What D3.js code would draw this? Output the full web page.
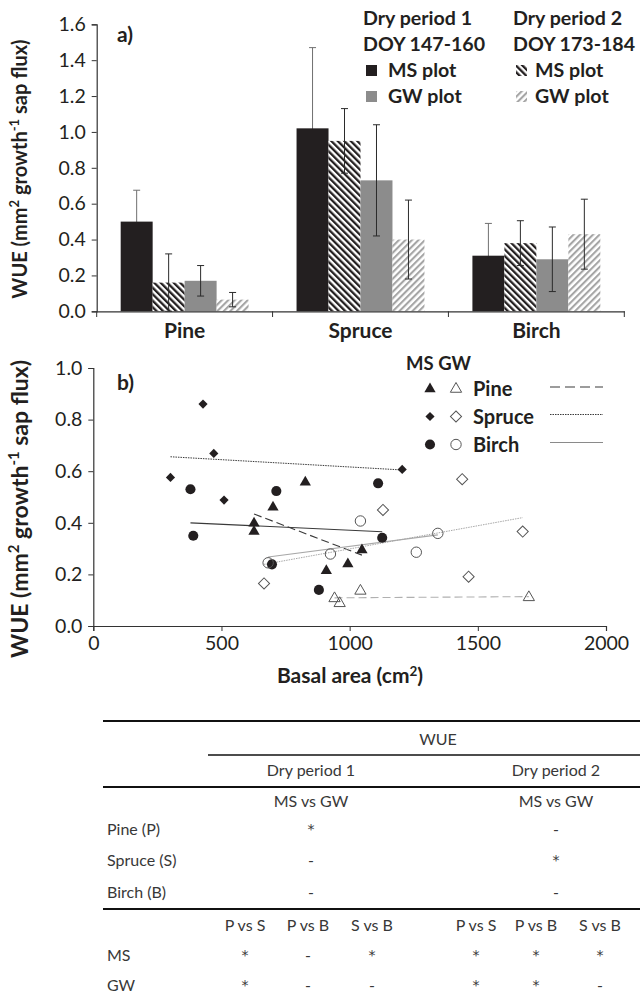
<!DOCTYPE html>
<html>
<head>
<meta charset="utf-8">
<script src="https://cdn.jsdelivr.net/npm/d3@7"></script>
<style>
  body { margin: 0; background: #fff; }
  text { font-family: Lato, "Open Sans", sans-serif; fill: #231f20; }
</style>
</head>
<body>
<svg id="fig" width="641" height="998"></svg>
<script>
// ---------- panel a: WUE by species, plot and dry period ----------
const species = ["Pine", "Spruce", "Birch"];
const barSeries = ["MS1", "MS2", "GW1", "GW2"];
const wueMS1 = [0.50, 1.02, 0.31];
const wueMS2 = [0.16, 0.95, 0.38];
const wueGW1 = [0.17, 0.73, 0.29];
const wueGW2 = [0.065, 0.40, 0.43];
const errMS1 = [0.175, 0.45, 0.18];
const errMS2 = [0.16, 0.18, 0.125];
const errGW1 = [0.085, 0.31, 0.18];
const errGW2 = [0.04, 0.22, 0.195];
const barTicks = [0, 0.2, 0.4, 0.6, 0.8, 1.0, 1.2, 1.4, 1.6];

// ---------- panel b: WUE against basal area ----------
const pineMSx = [627, 627, 701, 827, 909, 993, 1048];
const pineMSy = [0.398, 0.366, 0.46, 0.557, 0.214, 0.24, 0.295];
const pineGWx = [941, 961, 1042, 1699];
const pineGWy = [0.107, 0.088, 0.136, 0.111];
const spruceMSx = [301, 428, 470, 510, 1205];
const spruceMSy = [0.576, 0.86, 0.669, 0.488, 0.607];
const spruceGWx = [666, 1130, 1439, 1464, 1675];
const spruceGWy = [0.165, 0.45, 0.569, 0.191, 0.366];
const birchMSx = [379, 390, 697, 714, 880, 1111, 1127];
const birchMSy = [0.53, 0.35, 0.239, 0.523, 0.14, 0.553, 0.342];
const birchGWx = [682, 925, 1042, 1260, 1344];
const birchGWy = [0.245, 0.279, 0.407, 0.286, 0.359];
const areaTicks = [0, 500, 1000, 1500, 2000];
const wueTicks = [0, 0.2, 0.4, 0.6, 0.8, 1.0];

// ---------- significance table ----------
const periodNames = ["Dry period 1", "Dry period 2"];
const speciesRows = ["Pine (P)", "Spruce (S)", "Birch (B)"];
const withinP1 = ["*", "-", "-"];
const withinP2 = ["-", "*", "-"];
const pairNames = ["P vs S", "P vs B", "S vs B"];
const plotRows = ["MS", "GW"];
const pairsP1 = [["*", "-", "*"], ["*", "-", "-"]];
const pairsP2 = [["*", "*", "*"], ["*", "*", "-"]];

const svg = d3.select("#fig");
const ink = "#231f20";
const defs = svg.append("defs");

function hatch(id, angle, color, width) {
  const p = defs.append("pattern")
    .attr("id", id)
    .attr("patternUnits", "userSpaceOnUse")
    .attr("width", 4.6).attr("height", 10)
    .attr("patternTransform", `rotate(${angle})`);
  p.append("rect").attr("width", 4.6).attr("height", 10).attr("fill", "#fff");
  p.append("rect").attr("width", width).attr("height", 10).attr("fill", color);
}
hatch("hatchMS", -45, ink, 2.3);
hatch("hatchGW", 45, "#a5a5a5", 2.1);

const fills = { MS1: ink, MS2: "url(#hatchMS)", GW1: "#8c8c8c", GW2: "url(#hatchGW)" };
const values = { MS1: wueMS1, MS2: wueMS2, GW1: wueGW1, GW2: wueGW2 };
const errors = { MS1: errMS1, MS2: errMS2, GW1: errGW1, GW2: errGW2 };

// ===== panel a =====
const xA = d3.scaleBand().domain(species).range([96.7, 624.3]).padding(0);
const xInner = d3.scaleBand().domain(barSeries).range([0, xA.bandwidth()])
  .paddingInner(0).paddingOuter(0.75);
const yA = d3.scaleLinear().domain([0, 1.6]).range([311.3, 24.3]);

const gErrBack = svg.append("g");   // whiskers that sit behind the solid black bars
const gBars = svg.append("g");
const gErrFront = svg.append("g");

function whisker(layer, cx, v, e, col) {
  const g = layer.append("g").attr("stroke", col).attr("stroke-width", 1);
  g.append("line").attr("x1", cx).attr("x2", cx).attr("y1", yA(v - e)).attr("y2", yA(v + e));
  g.append("line").attr("x1", cx - 3.5).attr("x2", cx + 3.5).attr("y1", yA(v + e)).attr("y2", yA(v + e));
  g.append("line").attr("x1", cx - 3.5).attr("x2", cx + 3.5).attr("y1", yA(v - e)).attr("y2", yA(v - e));
}

species.forEach((sp, i) => {
  barSeries.forEach(s => {
    const v = values[s][i], e = errors[s][i];
    const x = xA(sp) + xInner(s);
    gBars.append("rect")
      .attr("x", x)
      .attr("y", yA(v))
      .attr("width", xInner.bandwidth())
      .attr("height", yA(0) - yA(v))
      .attr("fill", fills[s]);
    const cx = x + xInner.bandwidth() / 2;
    if (s === "MS1") whisker(gErrBack, cx, v, e, "#707070");
    else whisker(gErrFront, cx, v, e, "#2b2b2b");
  });
});

// axes of panel a
const yAxisA = svg.append("g").attr("transform", "translate(96.7,0)")
  .call(d3.axisLeft(yA).tickValues(barTicks).tickFormat(d3.format(".1f")).tickSize(5).tickPadding(6));
const xAxisA = svg.append("g").attr("transform", "translate(0,311.3)")
  .call(d3.axisBottom(xA).tickSize(0).tickPadding(12));
// category separators on the x axis
svg.append("g").selectAll("line")
  .data(species.map(s => xA(s)).concat([xA.range()[1]]))
  .join("line")
  .attr("x1", d => d).attr("x2", d => d)
  .attr("y1", 311.3).attr("y2", 317)
  .attr("stroke", "#333");

[yAxisA, xAxisA].forEach(ax => {
  ax.select(".domain").attr("stroke", "#333").attr("stroke-width", 1.2);
  ax.selectAll(".tick line").attr("stroke", "#333");
});
yAxisA.selectAll(".tick text").attr("font-size", 19.5).attr("fill", ink);
xAxisA.selectAll(".tick text").attr("font-size", 21).attr("font-weight", 700).attr("fill", ink);

svg.append("text").attr("x", 117).attr("y", 42).attr("font-size", 21).attr("font-weight", 700).text("a)");

function wueTitle(cx, cy, size) {
  const t = svg.append("text")
    .attr("transform", `translate(${cx},${cy}) rotate(-90)`)
    .attr("text-anchor", "middle")
    .attr("font-size", size).attr("font-weight", 700);
  t.append("tspan").text("WUE (mm");
  t.append("tspan").attr("font-size", size * 0.65).attr("dy", -size * 0.38).text("2");
  t.append("tspan").attr("dy", size * 0.38).text(" growth");
  t.append("tspan").attr("font-size", size * 0.65).attr("dy", -size * 0.38).text("-1");
  t.append("tspan").attr("dy", size * 0.38).text(" sap flux)");
}
wueTitle(27, 169, 20);

// legend of panel a
const legA = svg.append("g").attr("font-weight", 700).attr("font-size", 19.6);
const legCols = [
  { x: 363, title: periodNames[0], doy: "DOY 147-160", ms: "MS1", gw: "GW1", textX: 388 },
  { x: 513, title: periodNames[1], doy: "DOY 173-184", ms: "MS2", gw: "GW2", textX: 535 }
];
legCols.forEach(c => {
  legA.append("text").attr("x", c.x).attr("y", 25).text(c.title);
  legA.append("text").attr("x", c.x).attr("y", 51).text(c.doy);
  legA.append("rect").attr("x", c.x + 3).attr("y", 65).attr("width", 11).attr("height", 11).attr("fill", fills[c.ms]);
  legA.append("text").attr("x", c.textX).attr("y", 77).text("MS plot");
  legA.append("rect").attr("x", c.x + 3).attr("y", 91).attr("width", 11).attr("height", 11).attr("fill", fills[c.gw]);
  legA.append("text").attr("x", c.textX).attr("y", 103).text("GW plot");
});

// ===== panel b =====
const xB = d3.scaleLinear().domain([0, 2000]).range([93.3, 606]);
const yB = d3.scaleLinear().domain([0, 1]).range([626, 368]);

const yAxisB = svg.append("g").attr("transform", "translate(93.3,0)")
  .call(d3.axisLeft(yB).tickValues(wueTicks).tickFormat(d3.format(".1f")).tickSize(5).tickPadding(6));
const xAxisB = svg.append("g").attr("transform", "translate(0,626)")
  .call(d3.axisBottom(xB).tickValues(areaTicks).tickFormat(d3.format("d")).tickSize(5).tickPadding(5));
[yAxisB, xAxisB].forEach(ax => {
  ax.select(".domain").attr("stroke", "#333").attr("stroke-width", 1.2);
  ax.selectAll(".tick line").attr("stroke", "#333");
  ax.selectAll(".tick text").attr("font-size", 19.5).attr("fill", ink);
});

svg.append("text").attr("x", 117).attr("y", 390).attr("font-size", 21).attr("font-weight", 700).text("b)");
wueTitle(28, 509, 23);
const xt = svg.append("text").attr("x", 350).attr("y", 683).attr("text-anchor", "middle")
  .attr("font-size", 21).attr("font-weight", 700);
xt.append("tspan").text("Basal area (cm");
xt.append("tspan").attr("font-size", 13.5).attr("dy", -7.5).text("2");
xt.append("tspan").attr("dy", 7.5).text(")");

const groups = [
  { xs: pineMSx, ys: pineMSy, shape: "tri", open: false, dash: "8,4", line: "#3a3a3a", lw: 1.1 },
  { xs: pineGWx, ys: pineGWy, shape: "tri", open: true, dash: "8,4", line: "#b0b0b0", lw: 1.1 },
  { xs: spruceMSx, ys: spruceMSy, shape: "dia", open: false, dash: "1.5,1", line: "#3a3a3a", lw: 1 },
  { xs: spruceGWx, ys: spruceGWy, shape: "dia", open: true, dash: "1.5,1", line: "#a8a8a8", lw: 1 },
  { xs: birchMSx, ys: birchMSy, shape: "cir", open: false, dash: null, line: "#3a3a3a", lw: 1.1 },
  { xs: birchGWx, ys: birchGWy, shape: "cir", open: true, dash: null, line: "#a8a8a8", lw: 1.1 }
];

// least-squares trend line over the range of each group
function fit(xs, ys) {
  const mx = d3.mean(xs), my = d3.mean(ys);
  const sxy = d3.sum(xs, (x, i) => (x - mx) * (ys[i] - my));
  const sxx = d3.sum(xs, x => (x - mx) * (x - mx));
  const b = sxy / sxx, a = my - b * mx;
  const [x0, x1] = d3.extent(xs);
  return [[x0, a + b * x0], [x1, a + b * x1]];
}

const lineGen = d3.line().x(d => xB(d[0])).y(d => yB(d[1]));
const gLines = svg.append("g");
groups.forEach(g => {
  gLines.append("path")
    .attr("d", lineGen(fit(g.xs, g.ys)))
    .attr("fill", "none")
    .attr("stroke", g.line)
    .attr("stroke-width", g.lw)
    .attr("stroke-dasharray", g.dash);
});

const symbols = {
  tri: { type: d3.symbolTriangle, filled: 55, open: 55, rot: 0 },
  dia: { type: d3.symbolSquare, filled: 42, open: 62, rot: 45 },
  cir: { type: d3.symbolCircle, filled: 80, open: 85, rot: 0 }
};
function marker(sel, shape, open, x, y) {
  const s = symbols[shape];
  sel.append("path")
    .attr("transform", `translate(${x},${y}) rotate(${s.rot})`)
    .attr("d", d3.symbol().type(s.type).size(open ? s.open : s.filled)())
    .attr("fill", open ? "none" : ink)
    .attr("stroke", open ? "#555" : "none")
    .attr("stroke-width", 1);
}
const gPts = svg.append("g");
groups.forEach(g => {
  g.xs.forEach((x, i) => marker(gPts, g.shape, g.open, xB(x), yB(g.ys[i])));
});

// legend of panel b
const legB = svg.append("g").attr("font-weight", 700);
legB.append("text").attr("x", 406).attr("y", 370).attr("font-size", 18.5).text("MS GW");
const legRows = [
  { label: "Pine", shape: "tri", y: 389, dash: "10,5", col: "#3a3a3a" },
  { label: "Spruce", shape: "dia", y: 416.5, dash: "1.5,1", col: "#3a3a3a" },
  { label: "Birch", shape: "cir", y: 444.5, dash: null, col: "#8a8a8a" }
];
legRows.forEach(r => {
  marker(legB, r.shape, false, 430, r.y);
  marker(legB, r.shape, true, 456, r.y);
  legB.append("text").attr("x", 473).attr("y", r.y + 7).attr("font-size", 20).text(r.label);
  legB.append("line").attr("x1", 550).attr("x2", 603).attr("y1", r.y - 2).attr("y2", r.y - 2)
    .attr("stroke", r.col).attr("stroke-width", 1.1).attr("stroke-dasharray", r.dash);
});

// ===== table =====
const tbl = svg.append("g").attr("font-size", 16).style("opacity", 0.999);
const tcol = "#383838";
const rule = (x1, y, w) => tbl.append("line").attr("x1", x1).attr("x2", 640).attr("y1", y).attr("y2", y)
  .attr("stroke", "#111").attr("stroke-width", w);
rule(103, 721, 2);
rule(208, 755, 1.6);
rule(103, 787, 2);
rule(103, 909, 2);

const cell = (x, y, t, anchor = "middle") => {
  const txt = tbl.append("text")
    .attr("x", x).attr("y", y).attr("text-anchor", anchor).style("fill", tcol).text(t);
  if (t === "*") txt.style("font-family", "'DejaVu Sans', sans-serif").attr("font-size", 14).attr("y", y - 1);
  return txt;
};
const periodX = [311, 556];
const pairX = [[245, 308, 372], [476, 536, 600]];

cell(438, 745, "WUE");
periodNames.forEach((p, j) => {
  cell(periodX[j], 776, p);
  cell(periodX[j], 807, "MS vs GW");
});
const rowY = [835, 866, 898];
speciesRows.forEach((r, i) => {
  cell(107, rowY[i], r, "start");
  cell(periodX[0], rowY[i], withinP1[i]);
  cell(periodX[1], rowY[i], withinP2[i]);
});
[0, 1].forEach(j => pairNames.forEach((p, k) => cell(pairX[j][k], 931, p)));
const plotY = [961, 991];
plotRows.forEach((r, i) => {
  cell(107, plotY[i], r, "start");
  pairNames.forEach((p, k) => {
    cell(pairX[0][k], plotY[i], pairsP1[i][k]);
    cell(pairX[1][k], plotY[i], pairsP2[i][k]);
  });
});
</script>
</body>
</html>
